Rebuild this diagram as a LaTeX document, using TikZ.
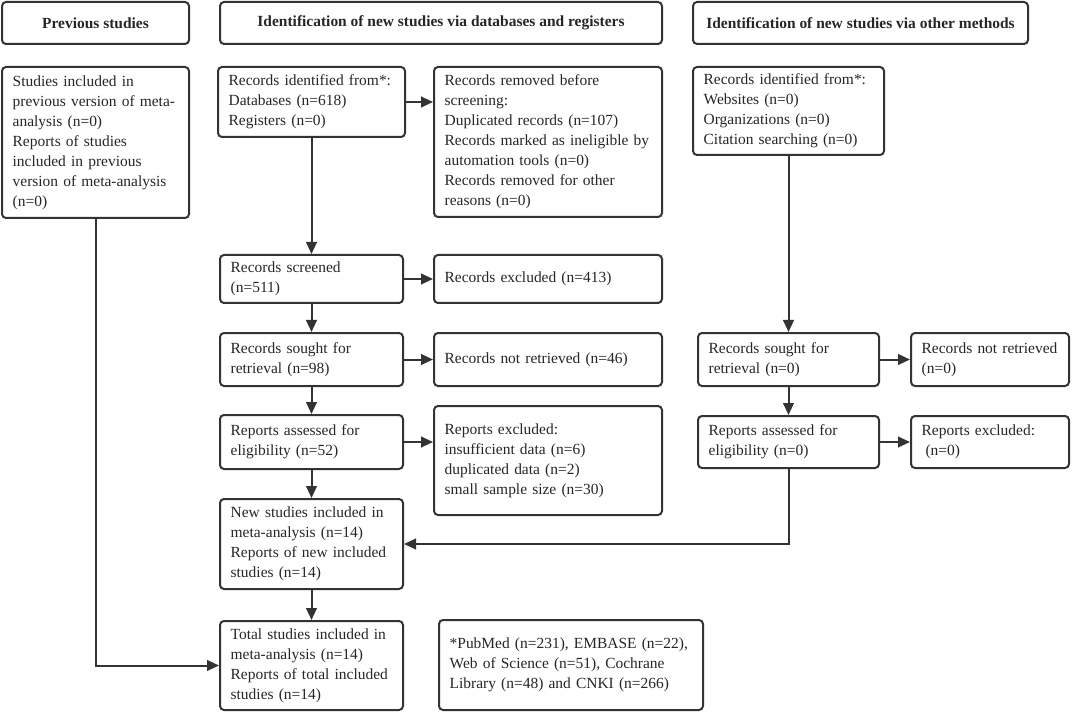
\documentclass[tikz,border=0pt]{standalone}
\usepackage{fontspec}
\setmainfont{Liberation Serif}
\usetikzlibrary{arrows.meta}
\definecolor{linegray}{HTML}{333333}

% box from its corners (x1,y1) (x2,y2), in pixels
\newcommand{\flowbox}[7][]{%
  \pgfmathsetmacro{\boxw}{(#5-#3)*0.75}%
  \pgfmathsetmacro{\boxh}{(#6-#4)*0.75}%
  \pgfmathsetmacro{\boxtw}{\boxw-16}%
  \node[box,minimum width=\boxw pt,minimum height=\boxh pt,text width=\boxtw pt,#1] (#2) at ({(#3+#5)/2},{(#4+#6)/2}) {#7};}

\begin{document}
\begin{tikzpicture}[x=0.75pt,y=-0.75pt,
  box/.style={draw=linegray,line width=1.5pt,rounded corners=3pt,align=left,inner xsep=8pt,inner ysep=0pt,text=black!85,font=\fontsize{11.6}{15}\selectfont},
  head/.style={text width={},align=center,font=\fontsize{11.6}{15}\selectfont\bfseries},
  arr/.style={draw=linegray,line width=1.5pt,-{Triangle[length=9pt,width=8pt]}}]
\useasboundingbox (0,0) rectangle (1072,713);

% headers
\flowbox[head]{hprev}{2}{2}{189}{44}{Previous studies}
\flowbox[head]{hdb}{220}{2}{662}{44}{Identification of new studies via databases and registers}
\flowbox[head]{hother}{693}{2}{1028}{44}{Identification of new studies via other methods}

% previous studies
\flowbox{prev}{2}{67}{189}{218}{Studies included in\\previous version of meta-\\analysis (n=0)\\Reports of studies\\included in previous\\version of meta-analysis\\(n=0)}

% databases and registers
\flowbox{dbid}{218}{67}{405}{137}{Records identified from*:\\Databases (n=618)\\Registers (n=0)}
\flowbox{removed}{434}{67}{662}{217}{Records removed before\\screening:\\Duplicated records (n=107)\\Records marked as ineligible by\\automation tools (n=0)\\Records removed for other\\reasons (n=0)}
\flowbox{screened}{220}{255}{403}{303}{Records screened\\(n=511)}
\flowbox{excluded}{434}{255}{662}{303}{Records excluded (n=413)}
\flowbox{sought}{220}{333}{403}{386}{Records sought for\\retrieval (n=98)}
\flowbox{notretr}{434}{333}{662}{386}{Records not retrieved (n=46)}
\flowbox{assessed}{220}{415}{403}{469}{Reports assessed for\\eligibility (n=52)}
\flowbox{repexcl}{434}{406}{662}{515}{Reports excluded:\\insufficient data (n=6)\\duplicated data (n=2)\\small sample size (n=30)}
\flowbox{newinc}{220}{499}{403}{589}{New studies included in\\meta-analysis (n=14)\\Reports of new included\\studies (n=14)}
\flowbox{total}{220}{621}{403}{710}{Total studies included in\\meta-analysis (n=14)\\Reports of total included\\studies (n=14)}
\flowbox{note}{439}{620}{703}{710}{*PubMed (n=231), EMBASE (n=22),\\Web of Science (n=51), Cochrane\\Library (n=48) and CNKI (n=266)}

% other methods
\flowbox{otherid}{693}{67}{884}{155}{Records identified from*:\\Websites (n=0)\\Organizations (n=0)\\Citation searching (n=0)}
\flowbox{osought}{698}{333}{879}{386}{Records sought for\\retrieval (n=0)}
\flowbox{onotretr}{911}{333}{1069}{386}{Records not retrieved\\(n=0)}
\flowbox{oassessed}{698}{416}{879}{468}{Reports assessed for\\eligibility (n=0)}
\flowbox{orepexcl}{911}{416}{1069}{468}{Reports excluded:\\\hspace*{0.25em}(n=0)}

% connectors
\draw[arr] (dbid.east) -- (dbid.east -| removed.west);
\draw[arr] (dbid.south) -- (screened.north);
\draw[arr] (screened.east) -- (excluded.west);
\draw[arr] (screened.south) -- (sought.north);
\draw[arr] (sought.east) -- (notretr.west);
\draw[arr] (sought.south) -- (assessed.north);
\draw[arr] (assessed.east) -- (assessed.east -| repexcl.west);
\draw[arr] (assessed.south) -- (newinc.north);
\draw[arr] (newinc.south) -- (total.north);
\draw[arr] (prev.south) |- (total.west);
\draw[arr] (otherid.south) -- (osought.north);
\draw[arr] (osought.east) -- (onotretr.west);
\draw[arr] (osought.south) -- (oassessed.north);
\draw[arr] (oassessed.east) -- (orepexcl.west);
\draw[arr] (oassessed.south) |- (newinc.east);
\end{tikzpicture}
\end{document}
